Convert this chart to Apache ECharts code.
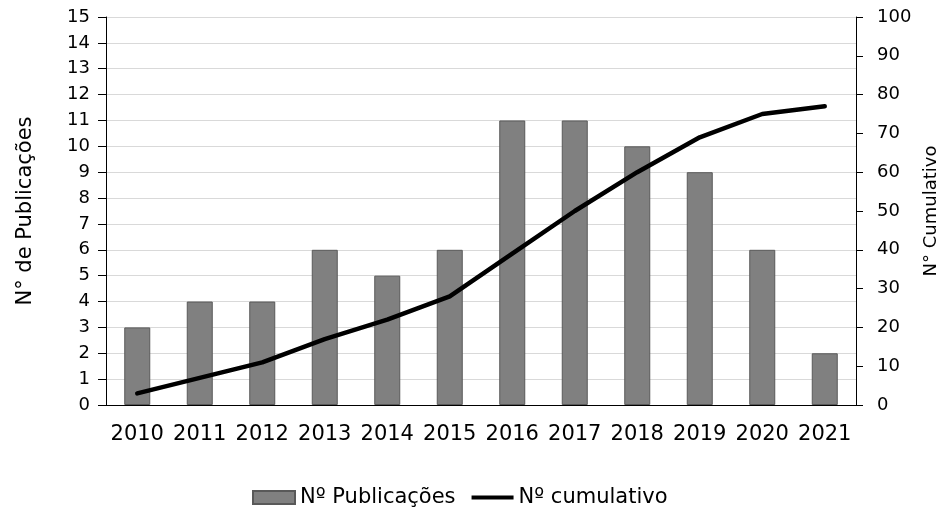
<!DOCTYPE html>
<html lang="pt">
<head>
    <meta charset="UTF-8">
    <title>Nº Publicações</title>
    <script type="text/javascript" src="https://cdn.jsdelivr.net/npm/echarts@6/dist/echarts.min.js"></script>
    <style>
        html, body { margin: 0; padding: 0; background: #fff; }
        #main { width: 941px; height: 511px; }
    </style>
</head>
<body>
<div id="main"></div>
<script>
    // dados
    const anos = ['2010', '2011', '2012', '2013', '2014', '2015', '2016', '2017', '2018', '2019', '2020', '2021'];
    const publicacoes = [3, 4, 4, 6, 5, 6, 11, 11, 10, 9, 6, 2];
    const cumulativo = [3, 7, 11, 17, 22, 28, 39, 50, 60, 69, 75, 77];

    const fonte = 'DejaVu Sans, Verdana, sans-serif';
    function txt(size) {
        return { fontFamily: fonte, fontSize: size, color: '#000' };
    }

    const chart = echarts.init(document.getElementById('main'));
    const option = {
        animation: false,
        grid: { left: 106, right: 85, top: 17, bottom: 106, outerBoundsMode: 'none', containLabel: false },
        legend: {
            top: 482,
            left: 247,
            itemGap: 16,
            itemWidth: 42,
            itemHeight: 13,
            textStyle: txt(21),
            data: [
                { name: 'Nº Publicações', icon: 'rect' },
                { name: 'Nº cumulativo', icon: 'path://M0,0L42,0L42,4L0,4Z', itemStyle: { color: '#000' } }
            ]
        },
        xAxis: {
            type: 'category',
            data: anos,
            axisLine: { lineStyle: { color: '#000', width: 1 } },
            axisTick: { length: 6, lineStyle: { color: '#000' } },
            axisLabel: Object.assign({ margin: 19, interval: 0 }, txt(21))
        },
        yAxis: [
            {
                type: 'value',
                min: 0, max: 15, interval: 1,
                name: 'N° de Publicações',
                nameLocation: 'middle',
                nameGap: 70,
                nameTextStyle: txt(21),
                axisLine: { show: true, lineStyle: { color: '#000' } },
                axisTick: { show: true, length: 8, lineStyle: { color: '#000' } },
                axisLabel: Object.assign({ margin: 16 }, txt(18)),
                splitLine: { lineStyle: { color: '#d9d9d9', width: 1 } }
            },
            {
                type: 'value',
                min: 0, max: 100, interval: 10,
                name: 'N° Cumulativo',
                nameLocation: 'middle',
                nameGap: 66,
                nameTextStyle: txt(18),
                axisLine: { show: true, lineStyle: { color: '#000' } },
                axisTick: { show: true, length: 7, lineStyle: { color: '#000' } },
                axisLabel: Object.assign({ margin: 21 }, txt(18)),
                splitLine: { show: false }
            }
        ],
        series: [
            {
                name: 'Nº Publicações',
                type: 'bar',
                data: publicacoes,
                barWidth: 26,
                itemStyle: { color: '#808080', borderColor: '#595959', borderWidth: 1 }
            },
            {
                name: 'Nº cumulativo',
                type: 'line',
                yAxisIndex: 1,
                data: cumulativo,
                showSymbol: false,
                symbol: 'none',
                lineStyle: { color: '#000', width: 4.5, cap: 'round', join: 'round' },
                itemStyle: { color: '#000' }
            }
        ]
    };
    chart.setOption(option);
</script>
</body>
</html>
